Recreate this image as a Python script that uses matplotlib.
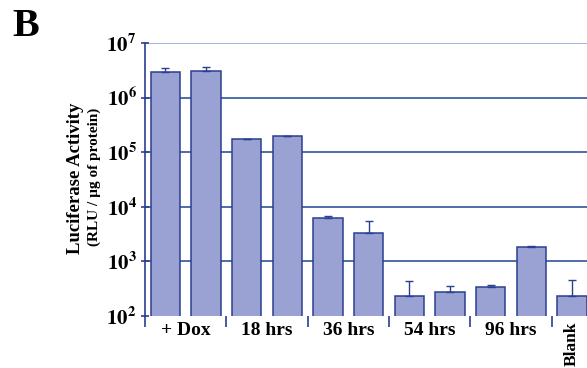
import numpy as np
import matplotlib.pyplot as plt
from matplotlib.transforms import blended_transform_factory

# luciferase readings, two bars per condition (blank has one)
groups = ['+ Dox', '18 hrs', '36 hrs', '54 hrs', '96 hrs', 'Blank']
values = [3.0e6, 3.1e6, 1.75e5, 2.0e5, 6.2e3, 3.3e3, 2.3e2, 2.75e2, 3.4e2, 1.85e3, 2.3e2]
err_up = [0.5e6, 0.6e6, 0.0, 0.0, 0.5e3, 2.3e3, 2.1e2, 0.8e2, 0.3e2, 0.08e3, 2.3e2]

BAR_FC = '#9aa1d3'
BAR_EC = '#2b3f8f'
GRID_C = '#2f5597'

plt.rcParams['font.family'] = ['Liberation Serif', 'DejaVu Serif']
plt.rcParams['mathtext.fontset'] = 'stix'

fig = plt.figure(figsize=(5.87, 3.68), dpi=100)
ax = fig.add_axes([145 / 587, 52 / 368, 1 - 145 / 587, 273 / 368])

x = np.arange(len(values))
ax.bar(x, values, width=0.72, color=BAR_FC, edgecolor=BAR_EC, linewidth=1.1, zorder=3)
ax.errorbar(x, values, yerr=[np.zeros(len(values)), err_up], fmt='none',
            ecolor=BAR_EC, elinewidth=1.0, capsize=3, capthick=1.0, zorder=4)

ax.set_yscale('log')
ax.set_ylim(1e2, 1e7)
ax.set_xlim(-0.5, 10.37)

# horizontal gridlines at each decade
for d in [1e3, 1e4, 1e5, 1e6]:
    ax.axhline(d, color=GRID_C, linewidth=1.2, zorder=1)
ax.axhline(1e7, color='#8fa6d6', linewidth=1.2, zorder=1)

ax.set_yticks([1e2, 1e3, 1e4, 1e5, 1e6, 1e7])
ax.set_yticklabels([r'$\mathbf{10^{%d}}$' % k for k in range(2, 8)])
ax.yaxis.set_minor_locator(plt.NullLocator())
ax.tick_params(axis='y', direction='inout', length=6, color=BAR_EC, width=1.2,
               labelsize=15, pad=3)

# group boundaries as ticks, labels centred between them
ax.set_xticks([-0.5, 1.5, 3.5, 5.5, 7.5, 9.5])
ax.set_xticklabels([])
ax.tick_params(axis='x', direction='out', length=8, color=BAR_EC, width=1.2)
trans = blended_transform_factory(ax.transData, ax.transAxes)
for i, g in enumerate(groups[:-1]):
    ax.annotate(g, xy=(2 * i + 0.5, 0), xycoords=trans, xytext=(0, -4),
                textcoords='offset points', ha='center', va='top', fontsize=14,
                fontweight='bold')
ax.annotate(groups[-1], xy=(10.0, 0), xycoords=trans, xytext=(0, -4),
            textcoords='offset points', ha='center', va='top', rotation=90,
            fontsize=12.5, fontweight='bold')

for s in ['top', 'right', 'bottom']:
    ax.spines[s].set_visible(False)
ax.spines['left'].set_color(BAR_EC)
ax.spines['left'].set_linewidth(1.2)
ax.spines['left'].set_bounds(1e2, 1e7)

fig.text(75 / 587, 1 - 178 / 368, 'Luciferase Activity', rotation=90, ha='center',
         va='center', fontsize=13.5, fontweight='bold')
fig.text(94 / 587, 1 - 177 / 368, '(RLU / \u00b5g of protein)', rotation=90, ha='center',
         va='center', fontsize=11, fontweight='bold')
fig.text(12 / 587, 1 - 26 / 368, 'B', ha='left', va='center', fontsize=29,
         fontweight='bold')

fig.savefig('out.png', dpi=100)
